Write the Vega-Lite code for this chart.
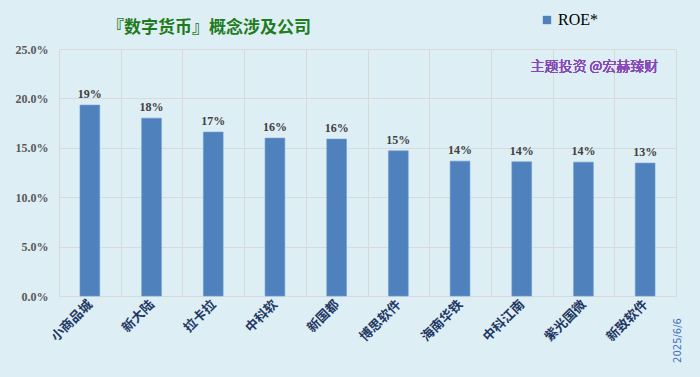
{
  "$schema": "https://vega.github.io/schema/vega-lite/v6.json",
  "width": 617,
  "height": 247,
  "autosize": {"type": "none"},
  "padding": {"left": 59, "top": 49, "right": 24, "bottom": 81},
  "background": "#DDEEF4",
  "title": {
    "text": "『数字货币』概念涉及公司",
    "anchor": "start",
    "frame": "group",
    "dx": 48,
    "dy": 54,
    "offset": 16,
    "baseline": "alphabetic",
    "font": "Noto Sans CJK SC",
    "fontSize": 17,
    "fontWeight": "bold",
    "color": "#1E7B1E"
  },
  "data": {
    "values": [
      {"company": "小商品城", "roe": 0.1932},
      {"company": "新大陆", "roe": 0.180},
      {"company": "拉卡拉", "roe": 0.1659},
      {"company": "中科软", "roe": 0.1598},
      {"company": "新国都", "roe": 0.1588},
      {"company": "博思软件", "roe": 0.1469},
      {"company": "海南华铁", "roe": 0.1365},
      {"company": "中科江南", "roe": 0.1358},
      {"company": "紫光国微", "roe": 0.1355},
      {"company": "新致软件", "roe": 0.1345}
    ]
  },
  "config": {
    "view": {"stroke": "#D9D9D9", "strokeWidth": 1},
    "axis": {"gridColor": "#D9D9D9", "gridWidth": 1}
  },
  "layer": [
    {
      "mark": {"type": "bar", "width": {"band": 0.32}, "stroke": "#6A9AD4", "strokeWidth": 0.6},
      "encoding": {
        "x": {
          "field": "company",
          "type": "nominal",
          "sort": null,
          "scale": {"paddingInner": 0, "paddingOuter": 0},
          "axis": {
            "title": "2025/6/6",
            "titleAngle": 270,
            "titleX": 618,
            "titleY": 44,
            "titleAlign": "center",
            "titleBaseline": "middle",
            "titleFont": "DejaVu Sans",
            "titleFontSize": 10,
            "titleFontWeight": "normal",
            "titleColor": "#4472C4",
            "labelAngle": -45,
            "labelAlign": "right",
            "labelBaseline": "middle",
            "labelFont": "Noto Sans CJK SC",
            "labelFontSize": 13,
            "labelFontWeight": "bold",
            "labelColor": "#1F3864",
            "labelPadding": 6,
            "labelOverlap": false,
            "ticks": false,
            "domain": false,
            "grid": true,
            "tickBand": "extent"
          }
        },
        "y": {
          "field": "roe",
          "type": "quantitative",
          "scale": {"domain": [0, 0.25], "nice": false, "zero": true},
          "axis": {
            "title": null,
            "format": ".1%",
            "values": [0, 0.05, 0.1, 0.15, 0.2, 0.25],
            "labelOverlap": false,
            "labelFont": "Liberation Serif",
            "labelFontSize": 12,
            "labelFontWeight": "bold",
            "labelColor": "#595959",
            "labelPadding": 11,
            "ticks": false,
            "domain": false,
            "grid": true
          }
        },
        "color": {
          "datum": "ROE*",
          "scale": {"range": ["#4F81BD"]},
          "legend": {
            "title": null,
            "orient": "none",
            "legendX": 480,
            "legendY": -37,
            "symbolType": "square",
            "symbolSize": 70,
            "symbolStrokeWidth": 0,
            "labelFont": "Liberation Serif",
            "labelFontSize": 16,
            "labelColor": "#000000",
            "labelOffset": 3
          }
        }
      }
    },
    {
      "mark": {"type": "text", "baseline": "alphabetic", "dy": -7, "font": "Liberation Serif", "fontSize": 12, "fontWeight": "bold", "color": "#404040"},
      "encoding": {
        "x": {"field": "company", "type": "nominal", "sort": null},
        "y": {"field": "roe", "type": "quantitative"},
        "text": {"field": "roe", "type": "quantitative", "format": ".0%"}
      }
    },
    {
      "mark": {"type": "text", "font": "Noto Sans CJK SC", "fontSize": 14, "fontWeight": 300, "color": "#8748B8", "dx": 11, "baseline": "middle"},
      "encoding": {
        "x": {"datum": "紫光国微"},
        "y": {"datum": 0.232},
        "text": {"value": "主题投资 @宏赫臻财"}
      }
    }
  ]
}
